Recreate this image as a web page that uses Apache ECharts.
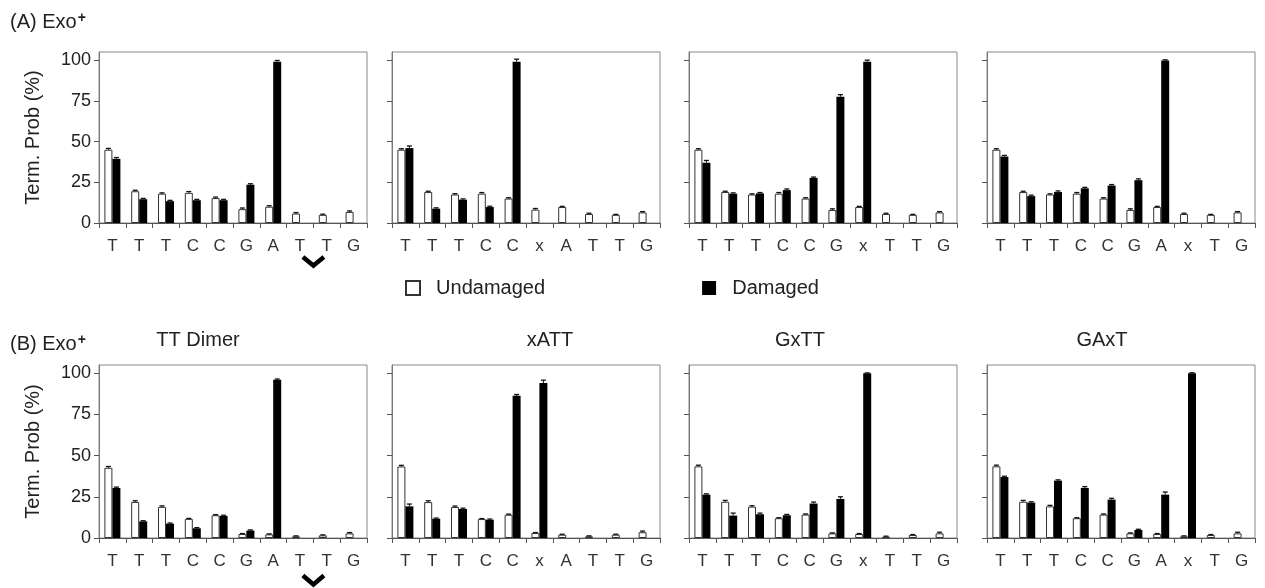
<!DOCTYPE html>
<html><head><meta charset="utf-8">
<script src="https://cdn.jsdelivr.net/npm/echarts@6/dist/echarts.min.js"></script>
<style>html,body{margin:0;padding:0;background:#fff}#c{width:1265px;height:588px}</style>
</head><body><div id="c"></div>
<script>
// ---- categories ----
const catsA1 = ['T','T','T','C','C','G','A','T','T','G'];
const catsA2 = ['T','T','T','C','C','x','A','T','T','G'];
const catsA3 = ['T','T','T','C','C','G','x','T','T','G'];
const catsA4 = ['T','T','T','C','C','G','A','x','T','G'];
const catsB1 = ['T','T','T','C','C','G','A','T','T','G'];
const catsB2 = ['T','T','T','C','C','x','A','T','T','G'];
const catsB3 = ['T','T','T','C','C','G','x','T','T','G'];
const catsB4 = ['T','T','T','C','C','G','A','x','T','G'];

// ---- values (Term. Prob %) ----
const undA1 = [45, 19.5, 18, 18.5, 15.3, 8.5, 10, 5.8, 5, 6.8];
const dmgA1 = [39.4, 14.6, 13.4, 14, 14, 23.5, 99, null, null, null];
const undA2 = [45, 19, 17.5, 18, 15, 8.2, 9.8, 5.5, 5, 6.5];
const dmgA2 = [46, 8.8, 14.3, 9.8, 99, null, null, null, null, null];
const undA3 = [45, 19, 17.5, 18, 15, 8, 9.8, 5.5, 5, 6.5];
const dmgA3 = [37, 18, 18.2, 20.2, 27.7, 77.5, 99, null, null, null];
const undA4 = [45, 19, 17.5, 18, 15, 8, 9.8, 5.5, 5, 6.5];
const dmgA4 = [40.8, 16.5, 19, 21.3, 23, 26.3, 99.8, null, null, null];
const undB1 = [42.6, 21.9, 18.9, 11.6, 13.8, 2.4, 2.2, 1, 1.6, 2.8];
const dmgB1 = [30.4, 10.1, 8.7, 5.9, 13.4, 4.5, 96, null, null, null];
const undB2 = [43.4, 21.8, 18.8, 11.5, 14.1, 3, 2, 1, 2, 3.5];
const dmgB2 = [19.2, 11.7, 17.6, 11.1, 86.3, 94, null, null, null, null];
const undB3 = [43.5, 22, 19, 12, 14.2, 2.8, 2.4, 0.8, 1.8, 2.8];
const dmgB3 = [26.3, 13.6, 14.4, 13.8, 20.9, 23.7, 100, null, null, null];
const undB4 = [43.5, 22, 19.2, 12, 14.2, 2.8, 2.4, 1, 1.8, 2.8];
const dmgB4 = [37, 21.5, 34.8, 30.4, 23.3, 4.9, 26.3, 100, null, null];

// ---- error bars ----
const undErrA1 = [0.8,0.6,0.5,0.8,0.6,0.7,0.6,0.6,0.4,0.6];
const dmgErrA1 = [0.8,0.5,0.5,0.5,0.5,0.6,0.8,null,null,null];
const undErrA2 = [0.6,0.5,0.5,0.7,0.5,0.7,0.4,0.5,0.3,0.5];
const dmgErrA2 = [1.3,0.5,0.5,0.5,1.6,null,null,null,null,null];
const undErrA3 = [0.6,0.5,0.4,0.7,0.5,0.7,0.4,0.5,0.3,0.5];
const dmgErrA3 = [1.4,0.5,0.5,0.7,0.5,1.3,1.0,null,null,null];
const undErrA4 = [0.6,0.5,0.4,0.7,0.5,0.7,0.4,0.5,0.3,0.5];
const dmgErrA4 = [0.7,0.6,0.7,0.6,0.6,0.8,0.4,null,null,null];
const undErrB1 = [0.8,0.7,0.6,0.3,0.4,0.3,0.3,0.3,0.3,0.5];
const dmgErrB1 = [0.5,0.4,0.4,0.4,0.4,0.4,0.5,null,null,null];
const undErrB2 = [0.7,0.8,0.6,0.3,0.4,0.3,0.3,0.3,0.3,0.7];
const dmgErrB2 = [1.4,0.4,0.5,0.4,0.8,1.8,null,null,null,null];
const undErrB3 = [0.7,0.8,0.6,0.3,0.4,0.3,0.3,0.3,0.3,0.7];
const dmgErrB3 = [0.5,1.5,0.7,0.5,0.9,1.3,0.2,null,null,null];
const undErrB4 = [0.7,0.8,0.6,0.3,0.4,0.3,0.3,0.3,0.3,0.7];
const dmgErrB4 = [0.5,0.5,0.5,0.8,0.8,0.4,1.6,0.3,null,null];

const yTicks = [0, 25, 50, 75, 100];
const panelTitles = ['', '', '', '', 'TT Dimer', 'xATT', 'GxTT', 'GAxT'];
const seriesNames = ['Undamaged', 'Damaged'];

const panels = [
  [catsA1, undA1, dmgA1, undErrA1, dmgErrA1],
  [catsA2, undA2, dmgA2, undErrA2, dmgErrA2],
  [catsA3, undA3, dmgA3, undErrA3, dmgErrA3],
  [catsA4, undA4, dmgA4, undErrA4, dmgErrA4],
  [catsB1, undB1, dmgB1, undErrB1, dmgErrB1],
  [catsB2, undB2, dmgB2, undErrB2, dmgErrB2],
  [catsB3, undB3, dmgB3, undErrB3, dmgErrB3],
  [catsB4, undB4, dmgB4, undErrB4, dmgErrB4]
];

// ---- layout / style ----
const FONT = '"Liberation Sans", Arial, Helvetica, sans-serif';
const TXT = '#222';
const gridLefts = [99, 392, 689, 987];
const gridTops = [52, 365];
const gridHeights = [171, 173];
const gridWidth = 268;
const BAR_W = 8;
const titlePos = [null, null, null, null, [198, 340], [550, 340], [800, 340], [1102, 340]];

const chart = echarts.init(document.getElementById('c'), null, {renderer: 'canvas'});

function errRender(offset) {
  return function (params, api) {
    const i = api.value(0), v = api.value(1), e = api.value(2);
    const p0 = api.coord([i, v]);
    const p1 = api.coord([i, v + e]);
    const x = p0[0] + offset;
    return {
      type: 'group',
      children: [
        {type: 'line', shape: {x1: x, y1: p0[1], x2: x, y2: p1[1]}, style: {stroke: '#111', lineWidth: 1}},
        {type: 'line', shape: {x1: x - 2.5, y1: p1[1], x2: x + 2.5, y2: p1[1]}, style: {stroke: '#111', lineWidth: 1.3}}
      ]
    };
  };
}

const grid = [], xAxis = [], yAxis = [], series = [], graphic = [];

panels.forEach(function (p, k) {
  const row = k < 4 ? 0 : 1, col = k % 4;
  grid.push({
    left: gridLefts[col], top: gridTops[row], width: gridWidth, height: gridHeights[row],
    show: true, borderColor: '#8a8a8a', borderWidth: 1, backgroundColor: 'transparent'
  });
  xAxis.push({
    type: 'category', gridIndex: k, data: p[0], boundaryGap: true,
    axisLine: {show: true, lineStyle: {color: '#555', width: 1}},
    axisTick: {show: true, alignWithLabel: false, length: 5, lineStyle: {color: '#555'}},
    axisLabel: {interval: 0, fontSize: 17, fontFamily: FONT, color: '#333', margin: 15},
    splitLine: {show: false}
  });
  yAxis.push({
    type: 'value', gridIndex: k, min: 0, max: 105,
    axisLine: {show: true, lineStyle: {color: '#777', width: 1}},
    axisTick: {show: true, length: 5, lineStyle: {color: '#555'}, customValues: yTicks},
    axisLabel: {show: col === 0, fontSize: 18, fontFamily: FONT, color: TXT, margin: 8, customValues: yTicks},
    splitLine: {show: false},
    name: col === 0 ? 'Term. Prob (%)' : '',
    nameLocation: 'middle', nameGap: 56,
    nameTextStyle: {fontSize: 20, fontFamily: FONT, color: TXT}
  });
  series.push({
    name: seriesNames[0], type: 'bar', xAxisIndex: k, yAxisIndex: k, data: p[1],
    barWidth: BAR_W, barGap: '0%',
    itemStyle: {color: '#fff', borderColor: '#333', borderWidth: 1},
    silent: true
  });
  series.push({
    name: seriesNames[1], type: 'bar', xAxisIndex: k, yAxisIndex: k, data: p[2],
    barWidth: BAR_W, barGap: '0%',
    itemStyle: {color: '#000', borderColor: '#000', borderWidth: 0},
    silent: true
  });
  [[p[1], p[3], -BAR_W / 2], [p[2], p[4], BAR_W / 2]].forEach(function (s) {
    const d = [];
    s[0].forEach(function (v, i) { if (v != null && s[1][i] != null) d.push([i, v, s[1][i]]); });
    series.push({
      type: 'custom', xAxisIndex: k, yAxisIndex: k, data: d, z: 5, silent: true,
      renderItem: errRender(s[2])
    });
  });
  if (titlePos[k]) {
    graphic.push({
      type: 'text', x: titlePos[k][0], y: titlePos[k][1],
      style: {text: panelTitles[k], fontSize: 20, fontFamily: FONT, fill: TXT, align: 'center', verticalAlign: 'middle'}
    });
  }
});

const supRich = {
  b: {fontSize: 20, fontWeight: 'normal', fontFamily: FONT, color: TXT},
  s: {fontSize: 14, fontWeight: 'bold', fontFamily: FONT, color: TXT, verticalAlign: 'top', padding: [0, 0, 8, 1]}
};

chart.setOption({
  backgroundColor: '#fff',
  animation: false,
  title: [
    {text: '{b|(A) Exo}{s|+}', left: 5, top: 6, textStyle: {fontWeight: 'normal', rich: supRich}},
    {text: '{b|(B) Exo}{s|+}', left: 5, top: 328, textStyle: {fontWeight: 'normal', rich: supRich}}
  ],
  legend: {
    data: seriesNames, left: 400, top: 273, itemWidth: 14, itemHeight: 14, itemGap: 157,
    icon: 'rect', selectedMode: false,
    formatter: function (n) { return '  ' + n; },
    textStyle: {fontSize: 20, fontFamily: FONT, color: TXT}
  },
  grid: grid, xAxis: xAxis, yAxis: yAxis, series: series, graphic: graphic
});

// chevrons marking the TT dimer position (between category 7 and 8 of first column)
const chevOffsets = [[34, 42.5], [37.5, 46.5]];
[0, 4].forEach(function (k, r) {
  const xa = chart.convertToPixel({xAxisIndex: k}, 7);
  const xb = chart.convertToPixel({xAxisIndex: k}, 8);
  const by = chart.convertToPixel({yAxisIndex: k}, 0);
  const cx = (xa + xb) / 2;
  graphic.push({
    type: 'polyline',
    shape: {points: [[cx - 10.5, by + chevOffsets[r][0]], [cx, by + chevOffsets[r][1]], [cx + 10.5, by + chevOffsets[r][0]]]},
    style: {stroke: '#000', lineWidth: 4.5, fill: null, lineJoin: 'miter'}
  });
});
chart.setOption({graphic: graphic});
</script>
</body></html>
